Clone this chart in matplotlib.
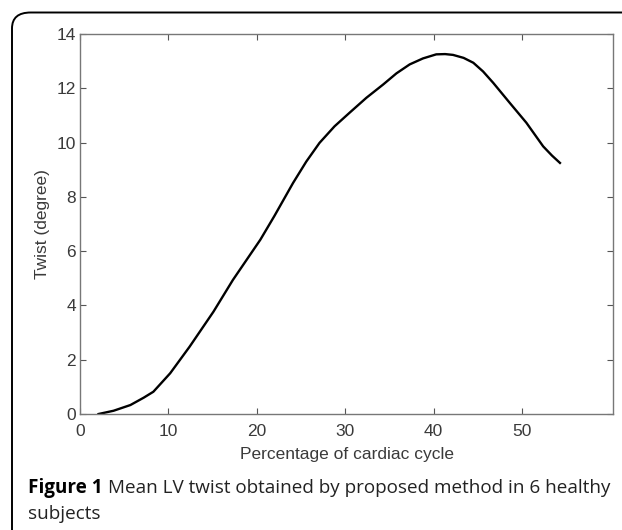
import matplotlib
matplotlib.use('Agg')
import matplotlib.pyplot as plt
from matplotlib.patches import FancyBboxPatch

# Mean LV twist vs percentage of cardiac cycle
cycle_pct = [2.1, 3.8, 5.7, 7.2, 8.3, 10.2, 12.4, 15.1, 17.3, 20.4, 22.0,
             24.1, 25.6, 27.1, 28.8, 30.5, 32.4, 34.3, 35.8, 37.3, 38.8,
             40.3, 41.3, 42.2, 43.4, 44.5, 45.6, 46.75, 48.6, 50.5, 52.4,
             53.4, 54.3]
twist_deg = [0.0, 0.12, 0.33, 0.6, 0.82, 1.5, 2.48, 3.77, 4.94, 6.42, 7.3,
             8.51, 9.3, 9.99, 10.6, 11.1, 11.65, 12.14, 12.55, 12.88, 13.1,
             13.25, 13.26, 13.23, 13.12, 12.94, 12.62, 12.2, 11.47, 10.73, 9.86,
             9.52, 9.25]

x_ticks = [0, 10, 20, 30, 40, 50]
y_ticks = [0, 2, 4, 6, 8, 10, 12, 14]

W, H = 622, 530
fig = plt.figure(figsize=(W / 100, H / 100), dpi=100)
fig.patch.set_facecolor('white')

# ── rounded frame, open on right and bottom (cropped) ────────────────
frame = FancyBboxPatch((12 / W, -0.2), 1.2, 1 - 12.5 / H + 0.2,
                       boxstyle='round,pad=0,rounding_size=0.03',
                       transform=fig.transFigure, facecolor='none',
                       edgecolor='black', linewidth=1.4, clip_on=False)
fig.patches.append(frame)

# ── axes ──────────────────────────────────────────────────────────────
ax = fig.add_axes([80 / W, 1 - 414 / H, (613 - 80) / W, (414 - 34) / H])
ax.plot(cycle_pct, twist_deg, color='black', linewidth=1.7,
        solid_joinstyle='round')

ax.set_xlim(0, 60.3)
ax.set_ylim(0, 14)
ax.set_xticks(x_ticks)
ax.set_yticks(y_ticks)

tick_font = dict(family=['Liberation Sans', 'DejaVu Sans'], size=12.5, color='#3a3a3a')
ax.set_xticklabels([str(t) for t in x_ticks], **tick_font)
ax.set_yticklabels([str(t) for t in y_ticks], **tick_font)
ax.tick_params(direction='in', length=4, width=0.8, color='#555555',
               top=True, right=True)
ax.tick_params(axis='x', pad=7)
ax.tick_params(axis='y', pad=3)
for s in ax.spines.values():
    s.set_color('#777777')
    s.set_linewidth(1.0)

ax.set_xlabel('Percentage of cardiac cycle', labelpad=6, **tick_font)
ax.set_ylabel('Twist (degree)', labelpad=5, **tick_font)

# ── caption ───────────────────────────────────────────────────────────
cap_font = ['Open Sans', 'DejaVu Sans']
cap_size = 13.6
t1 = fig.text(28 / W, 1 - 488 / H, 'Figure 1', fontsize=cap_size, fontweight='bold',
              family=cap_font, color='black', va='center')
fig.canvas.draw()
bb = t1.get_window_extent()
fig.text((bb.x1 + 5) / W, 1 - 488 / H,
         'Mean LV twist obtained by proposed method in 6 healthy',
         fontsize=cap_size, family=cap_font, color='#222222', va='center')
fig.text(28 / W, 1 - 514 / H, 'subjects', fontsize=cap_size, family=cap_font,
         color='#222222', va='center')

plt.savefig('out.png', dpi=100, facecolor='white')
plt.close()
